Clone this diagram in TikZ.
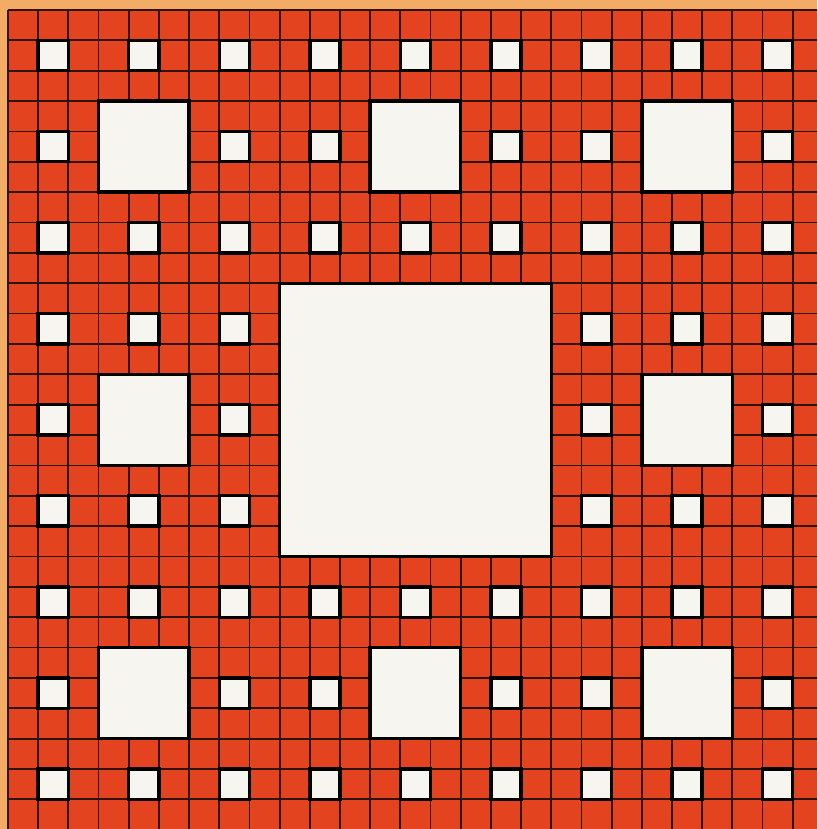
\documentclass[tikz,border=0pt]{standalone}
\definecolor{Carpet}{HTML}{E4431F}
\definecolor{Frame}{HTML}{F2AC66}
\definecolor{Rule}{HTML}{2E140C}
\definecolor{Hole}{HTML}{F7F5F0}
\begin{document}
\begin{tikzpicture}[x=15.09pt,y=-15.18pt,
 hole/.style={fill=Hole,draw=black,line width=1.7pt},
 gridline/.style={draw=Rule,line width=0.9pt}
]
\fill[Frame] (-0.265,-0.329) rectangle (26.806,26.976);
\useasboundingbox (-0.265,-0.329) rectangle (26.806,26.976);
\clip (-0.265,-0.329) rectangle (26.806,26.976);
\fill[Carpet] (0,0) rectangle (27,27);
% cell rules
\foreach \k in {0,...,27} {
  \draw[gridline] (\k,0) -- (\k,27);
  \draw[gridline] (0,\k) -- (27,\k);
}
% holes, smallest first
\foreach \a in {0,...,8}
  \foreach \b in {0,...,8}
    \draw[hole] (3*\a+1,3*\b+1) rectangle +(1,1);
\foreach \a in {0,1,2}
  \foreach \b in {0,1,2}
    \draw[hole] (9*\a+3,9*\b+3) rectangle +(3,3);
\draw[hole] (9,9) rectangle (18,18);
\end{tikzpicture}
\end{document}
